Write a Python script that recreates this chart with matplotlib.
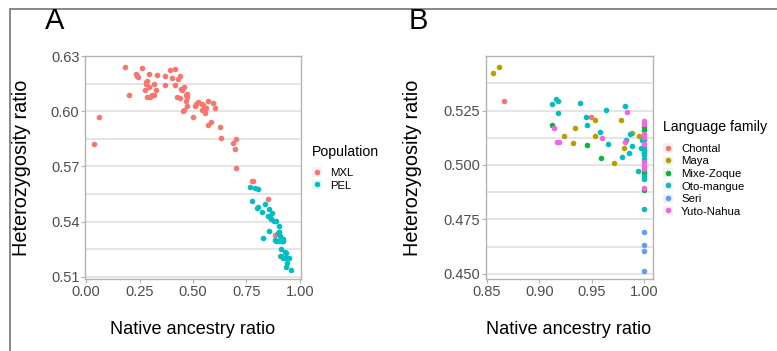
import matplotlib
matplotlib.use("Agg")
import matplotlib.pyplot as plt
from matplotlib.patches import Rectangle, Patch
from matplotlib.lines import Line2D

plt.rcParams['font.family'] = ['Liberation Sans', 'DejaVu Sans']

# ---------------- Panel A data ----------------
mxl_x = [0.180, 0.039, 0.059, 0.201, 0.261, 0.235, 0.238, 0.243, 0.295, 0.280, 0.287, 0.281,
         0.274, 0.295, 0.285, 0.300, 0.308, 0.316, 0.328, 0.316, 0.333, 0.367, 0.367, 0.392,
         0.414, 0.404, 0.418, 0.429, 0.440, 0.442, 0.449, 0.426, 0.439, 0.457, 0.467, 0.453,
         0.459, 0.467, 0.471, 0.470, 0.471, 0.502, 0.510, 0.515, 0.523, 0.540, 0.547, 0.540,
         0.555, 0.555, 0.561, 0.571, 0.568, 0.585, 0.593, 0.603, 0.627, 0.631, 0.687, 0.700,
         0.697, 0.701, 0.775, 0.782, 0.849, 0.883, 0.904, 0.907]
mxl_y = [0.6244, 0.5820, 0.5972, 0.6087, 0.6237, 0.6204, 0.6193, 0.6186, 0.6204, 0.6160, 0.6168, 0.6150,
         0.6117, 0.6132, 0.6081, 0.6078, 0.6090, 0.6150, 0.6117, 0.6092, 0.6197, 0.6193, 0.6146, 0.6228,
         0.6231, 0.6182, 0.6144, 0.6177, 0.6191, 0.6123, 0.6117, 0.6081, 0.6072, 0.6132, 0.6087, 0.6001,
         0.6009, 0.6059, 0.6094, 0.6078, 0.6032, 0.5967, 0.6030, 0.6041, 0.6054, 0.6038, 0.6036, 0.6009,
         0.6018, 0.5990, 0.6018, 0.6057, 0.5927, 0.5945, 0.6045, 0.6018, 0.5915, 0.5855, 0.5828, 0.5849,
         0.5793, 0.5690, 0.5623, 0.5623, 0.5524, 0.5326, 0.5342, 0.5212]
pel_x = [0.765, 0.774, 0.792, 0.806, 0.798, 0.806, 0.824, 0.838, 0.829, 0.854, 0.857, 0.849,
         0.860, 0.868, 0.865, 0.878, 0.888, 0.900, 0.900, 0.885, 0.897, 0.888, 0.902, 0.907,
         0.911, 0.913, 0.919, 0.922, 0.914, 0.919, 0.930, 0.936, 0.933, 0.938, 0.947, 0.935, 0.958]
pel_y = [0.5587, 0.5513, 0.5583, 0.5576, 0.5476, 0.5482, 0.5453, 0.5493, 0.5313, 0.5348, 0.5467, 0.5431,
         0.5426, 0.5444, 0.5413, 0.5402, 0.5402, 0.5375, 0.5344, 0.5298, 0.5336, 0.5296, 0.5296, 0.5321,
         0.5250, 0.5212, 0.5304, 0.5292, 0.5292, 0.5199, 0.5232, 0.5227, 0.5201, 0.5172, 0.5199, 0.5151, 0.5137]

pop_names = ["MXL", "PEL"]
pop_colors = ["#F8766D", "#00BFC4"]

# ---------------- Panel B data ----------------
chontal_x = [0.866, 0.949]
chontal_y = [0.5296, 0.5222]
maya_x = [0.856, 0.861, 0.924, 0.934, 0.932, 0.953, 0.953, 0.971, 0.978, 0.981, 0.989, 0.995, 1.000]
maya_y = [0.5424, 0.5452, 0.5135, 0.5171, 0.5101, 0.5207, 0.5133, 0.5010, 0.5208, 0.5078, 0.5145, 0.5135, 0.5121]
mixe_x = [0.912, 0.946, 0.959, 1.000, 1.000, 1.000, 1.000, 1.000, 1.000, 1.000]
mixe_y = [0.5185, 0.5093, 0.5033, 0.5175, 0.5159, 0.5067, 0.5056, 0.4974, 0.4962, 0.4885]
oto_x = [0.912, 0.916, 0.918, 0.918, 0.939, 0.945, 0.946, 0.958, 0.964, 0.966, 0.979, 0.982,
         0.983, 0.986, 0.987, 0.989, 0.994, 0.997, 0.998,
         1.000, 1.000, 1.000, 1.000, 1.000, 1.000, 1.000, 1.000]
oto_y = [0.5282, 0.5305, 0.5296, 0.5241, 0.5285, 0.5219, 0.5185, 0.5153, 0.5255, 0.5098, 0.5038, 0.5273,
         0.5115, 0.5053, 0.5144, 0.5088, 0.4973, 0.5078, 0.5115,
         0.5113, 0.5082, 0.5067, 0.5044, 0.5028, 0.4951, 0.4936, 0.4797]
seri_x = [1.000, 1.000, 1.000, 1.000]
seri_y = [0.4694, 0.4631, 0.4605, 0.4512]
yuto_x = [0.914, 0.917, 0.919, 0.960, 0.984, 0.982,
          1.000, 1.000, 1.000, 1.000, 1.000, 1.000, 1.000, 1.000, 1.000]
yuto_y = [0.5168, 0.5107, 0.5107, 0.5124, 0.5242, 0.5105,
          0.5202, 0.5187, 0.5141, 0.5128, 0.5098, 0.5013, 0.4997, 0.4982, 0.4894]

lang_names = ["Chontal", "Maya", "Mixe-Zoque", "Oto-mangue", "Seri", "Yuto-Nahua"]
lang_colors = ["#F8766D", "#B79F00", "#00BA38", "#00BFC4", "#619CFF", "#F564E3"]
lang_x = [chontal_x, maya_x, mixe_x, oto_x, seri_x, yuto_x]
lang_y = [chontal_y, maya_y, mixe_y, oto_y, seri_y, yuto_y]

xticks_a = [0.00, 0.25, 0.50, 0.75, 1.00]
yticks_a = [0.51, 0.54, 0.57, 0.60, 0.63]
yminor_a = [0.525, 0.555, 0.585, 0.615]
xticks_b = [0.85, 0.90, 0.95, 1.00]
yticks_b = [0.450, 0.475, 0.500, 0.525]
yminor_b = [0.4625, 0.4875, 0.5125, 0.5375]

W, H = 777, 351
fig = plt.figure(figsize=(W / 100, H / 100), dpi=100)

# outer frame
fig.add_artist(Rectangle((10 / W, -0.5), 2.0, 1.5 - 9 / H, transform=fig.transFigure,
                         fill=False, edgecolor="#7f7f7f", linewidth=1.3))


def style_axes(ax, yt, ymin, fmt_y):
    for s in ax.spines.values():
        s.set_color("#b3b3b3")
        s.set_linewidth(1.0)
    for y in yt + ymin:
        ax.axhline(y, color="#e0e0e0", linewidth=1.2, zorder=0)
    ax.tick_params(axis="both", colors="#b3b3b3", labelcolor="#4d4d4d", labelsize=10.5,
                   length=3, width=0.8, pad=1.0)
    ax.set_yticks(yt)
    ax.set_yticklabels([fmt_y.format(v) for v in yt])


def px_axes(l, r, t, b):
    return fig.add_axes([l / W, 1 - b / H, (r - l) / W, (b - t) / H])


PT = 16

ax1 = px_axes(85, 301, 56, 279)
ax1.scatter(mxl_x, mxl_y, s=PT, color=pop_colors[0], linewidths=0, zorder=3)
ax1.scatter(pel_x, pel_y, s=PT, color=pop_colors[1], linewidths=0, zorder=3)
ax1.set_xlim(-0.005, 1.005)
ax1.set_ylim(0.5087, 0.6302)
ax1.set_xticks(xticks_a)
ax1.set_xticklabels(["{:.2f}".format(v) for v in xticks_a])
style_axes(ax1, yticks_a, yminor_a, "{:.2f}")

ax2 = px_axes(486, 653, 56, 279)
for xs, ys, c in zip(lang_x, lang_y, lang_colors):
    ax2.scatter(xs, ys, s=PT, color=c, linewidths=0, zorder=3)
ax2.set_xlim(0.849, 1.0086)
ax2.set_ylim(0.4476, 0.5501)
ax2.set_xticks(xticks_b)
ax2.set_xticklabels(["{:.2f}".format(v) for v in xticks_b])
style_axes(ax2, yticks_b, yminor_b, "{:.3f}")

# panel letters
fig.text(55 / W, 1 - 21 / H, "A", fontsize=21, ha="center", va="center")
fig.text(418 / W, 1 - 21 / H, "B", fontsize=21, ha="center", va="center")

# axis titles
for cx in (193, 569):
    fig.text(cx / W, 1 - 329 / H, "Native ancestry ratio", fontsize=13.1, ha="center", va="center")
for cx in (22, 412):
    fig.text(cx / W, 1 - 168 / H, "Heterozygosity ratio", fontsize=14.3, ha="center", va="center",
             rotation=90)


def make_legend(names, colors, title, x, title_y, rows_center_y):
    fig.text(x / W, 1 - title_y / H, title, fontsize=10.2, ha="left", va="center")
    handles = [(Patch(facecolor="#f2f2f2", edgecolor="none"),
                Line2D([], [], marker="o", linestyle="none", markersize=4.0,
                       markerfacecolor=c, markeredgewidth=0)) for c in colors]
    leg = fig.legend(handles, names, loc="center left",
                     bbox_to_anchor=(x / W, 1 - rows_center_y / H), frameon=False, fontsize=8.2,
                     handlelength=0.85, handleheight=0.85,
                     handletextpad=0.75, labelspacing=0.18, borderpad=0, borderaxespad=0)
    return leg


make_legend(pop_names, pop_colors, "Population", 312, 152, 179)
make_legend(lang_names, lang_colors, "Language family", 663, 127, 180)

fig.savefig("out.png", dpi=100)
